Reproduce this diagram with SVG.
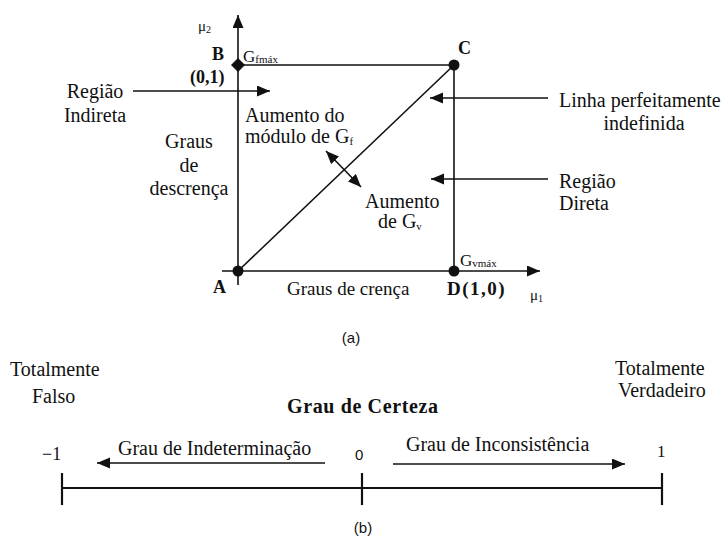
<svg xmlns="http://www.w3.org/2000/svg" width="728" height="540" viewBox="0 0 728 540">
<defs>
<marker id="ah" markerUnits="userSpaceOnUse" markerWidth="14" markerHeight="12" refX="13" refY="5.5" orient="auto-start-reverse">
<path d="M0,0 L13,5.5 L0,11 z" fill="#111"/>
</marker>
<style>
text{font-family:"Liberation Serif","Times New Roman",serif;fill:#111;font-size:20px}
.b{font-weight:bold;font-size:18px}
.s{font-family:"Liberation Sans",Arial,sans-serif;font-size:15px}
.sub{font-size:11px}
.ln{stroke:#111;stroke-width:1.6;fill:none}
.ax{stroke:#111;stroke-width:1.6;fill:none;marker-end:url(#ah)}
.mid{text-anchor:middle}
</style>
</defs>
<rect width="728" height="540" fill="#fff"/>

<g id="connectors">
<line class="ax" x1="238" y1="285" x2="238" y2="15"/>
<line class="ax" x1="222" y1="271" x2="540" y2="271"/>
<line class="ln" x1="238" y1="65" x2="454" y2="65"/>
<line class="ln" x1="454" y1="65" x2="454" y2="271"/>
<line class="ln" x1="238" y1="271" x2="454" y2="65"/>
<line class="ax" x1="133" y1="91" x2="270" y2="91"/>
<line class="ax" x1="548" y1="98" x2="430" y2="98"/>
<line class="ax" x1="548" y1="179" x2="431" y2="179"/>
<line class="ax" x1="326" y1="151" x2="361" y2="187" style="marker-start:url(#ah)"/>
<line class="ln" x1="62" y1="488" x2="662" y2="488" style="stroke-width:2"/>
<line class="ln" x1="62" y1="473" x2="62" y2="505" style="stroke-width:2.2"/>
<line class="ln" x1="362" y1="473" x2="362" y2="505" style="stroke-width:2.2"/>
<line class="ln" x1="662" y1="473" x2="662" y2="505" style="stroke-width:2.2"/>
<line class="ax" x1="325" y1="463" x2="97" y2="463"/>
<line class="ax" x1="393" y1="464" x2="625" y2="464"/>
</g>

<g id="nodeB">
<path d="M238,58 L245,65 L238,72 L231,65 z" fill="#111"/>
<text class="b" x="212" y="60">B</text>
<text class="b" x="190" y="83" style="font-size:18px">(0,1)</text>
<text x="243" y="62" style="font-size:17px">G<tspan class="sub" dy="1">fmáx</tspan></text>
</g>
<g id="nodeC">
<circle cx="454" cy="65" r="5.5" fill="#111"/>
<text class="b" x="458" y="54">C</text>
</g>
<g id="nodeA">
<circle cx="238" cy="271" r="5.5" fill="#111"/>
<text class="b" x="213" y="293">A</text>
</g>
<g id="nodeD">
<circle cx="454" cy="271" r="5.5" fill="#111"/>
<text class="b" x="447" y="295" style="font-size:19px;letter-spacing:1.5px">D(1,0)</text>
<text x="460" y="266" style="font-size:17px">G<tspan class="sub" dy="1">vmáx</tspan></text>
</g>
<g id="axisLabels">
<text x="198" y="31" style="font-size:15px">μ<tspan style="font-size:10px" dy="2">2</tspan></text>
<text x="530" y="300" style="font-size:15px">μ<tspan style="font-size:10px" dy="2">1</tspan></text>
<text x="287" y="295" style="font-size:19px">Graus de crença</text>
</g>
<g id="regiaoIndireta">
<text class="mid" x="95" y="98">Região</text>
<text class="mid" x="95" y="122">Indireta</text>
</g>
<g id="grausDescrenca">
<text class="mid" x="189" y="148">Graus</text>
<text class="mid" x="189" y="172">de</text>
<text class="mid" x="189" y="195">descrença</text>
</g>
<g id="aumentoModulo">
<text x="245" y="122">Aumento do</text>
<text x="245" y="143">módulo de G<tspan class="sub" dy="2">f</tspan></text>
</g>
<g id="aumentoGv">
<text x="365" y="208">Aumento</text>
<text x="378" y="228">de G<tspan class="sub" dy="2">v</tspan></text>
</g>
<g id="linhaIndefinida">
<text x="559" y="107">Linha perfeitamente</text>
<text class="mid" x="644" y="130">indefinida</text>
</g>
<g id="regiaoDireta">
<text x="559" y="188">Região</text>
<text x="559" y="210">Direta</text>
</g>
<text class="s mid" x="351" y="343">(a)</text>

<g id="scale">
<text x="10" y="376">Totalmente</text>
<text x="32" y="403">Falso</text>
<text x="615" y="375">Totalmente</text>
<text x="618" y="397">Verdadeiro</text>
<text x="287" y="413" style="font-weight:bold" textLength="151">Grau de Certeza</text>
<text x="42" y="460" style="font-size:18px">−1</text>
<text x="118" y="455">Grau de Indeterminação</text>
<text class="s" x="355" y="460">0</text>
<text x="406" y="451">Grau de Inconsistência</text>
<text x="657" y="457" style="font-size:17px">1</text>
</g>
<text class="s mid" x="363" y="533">(b)</text>
</svg>
